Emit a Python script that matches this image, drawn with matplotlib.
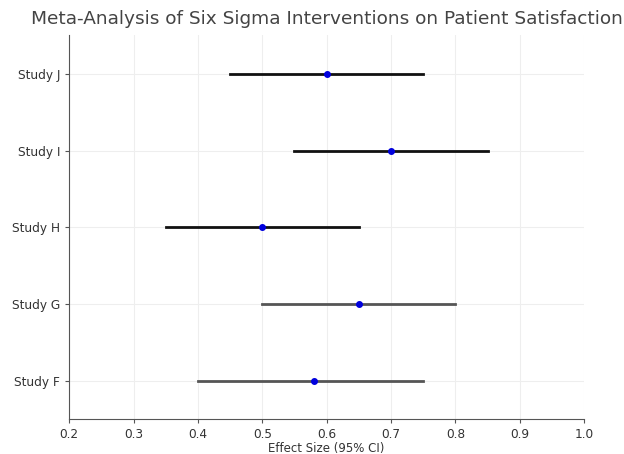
import matplotlib
matplotlib.use("Agg")
import matplotlib.pyplot as plt

# Forest plot data
studies = ["Study F", "Study G", "Study H", "Study I", "Study J"]
effect = [0.58, 0.65, 0.50, 0.70, 0.60]
ci_low = [0.40, 0.50, 0.35, 0.55, 0.45]
ci_high = [0.75, 0.80, 0.65, 0.85, 0.75]
line_colors = ["#555555", "#555555", "#111111", "#111111", "#111111"]

fig = plt.figure(figsize=(6.24, 4.54), dpi=100)
ax = fig.add_axes([0.111, 0.077, 0.825, 0.845])

for i, name in enumerate(studies):
    ax.plot([ci_low[i], ci_high[i]], [i, i], color=line_colors[i], linewidth=2, zorder=2)
    ax.plot(effect[i], i, "o", color="#0000dd", markersize=4, zorder=3)

ax.set_xlim(0.2, 1.0)
ax.set_ylim(-0.5, len(studies) - 0.5)
ax.set_yticks(range(len(studies)))
ax.set_yticklabels(studies)
ax.set_xticks([0.2, 0.3, 0.4, 0.5, 0.6, 0.7, 0.8, 0.9, 1.0])

ax.grid(True, color="#eeeeee", linewidth=0.8)
ax.set_axisbelow(True)
for s in ["top", "right"]:
    ax.spines[s].set_visible(False)
for s in ["left", "bottom"]:
    ax.spines[s].set_color("#555555")
ax.tick_params(axis="both", labelsize=8.7, colors="#555555", labelcolor="#333333", length=3)

ax.set_xlabel("Effect Size (95% CI)", fontsize=8.5, color="#333333", labelpad=1)
ax.set_title("Meta-Analysis of Six Sigma Interventions on Patient Satisfaction",
             fontsize=13.3, color="#444444", pad=8)

fig.savefig("out.png", dpi=100)
